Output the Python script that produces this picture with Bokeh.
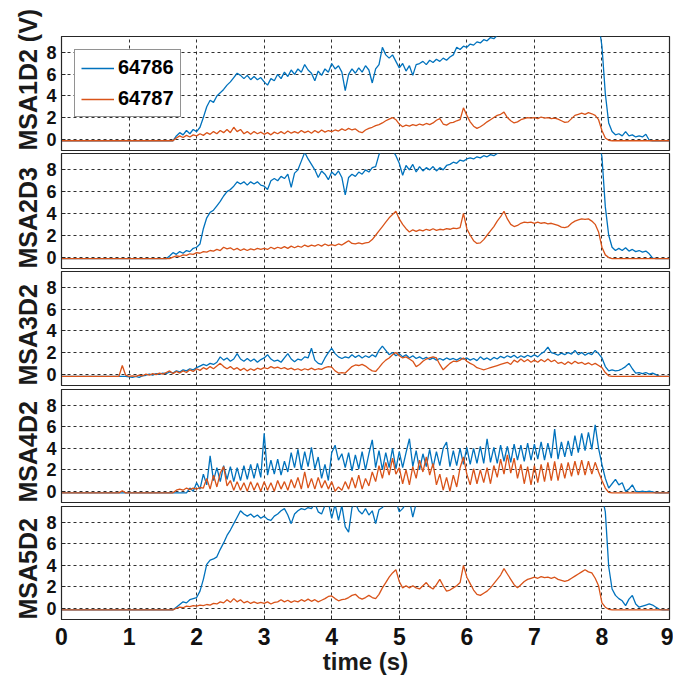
from bokeh.plotting import figure
from bokeh.layouts import column
from bokeh.models import Range1d, FixedTicker, Legend, LegendItem, Title
from bokeh.embed import file_html
from bokeh.resources import INLINE

# sample times (s), 0.05 s apart
time_s = [round(0.05 * i, 2) for i in range(181)]

x_ticks = [0, 1, 2, 3, 4, 5, 6, 7, 8, 9]
y_ticks = [0, 2, 4, 6, 8]
series_names = ["64786", "64787"]
panel_labels = ["MSA1D2 (V)", "MSA2D3", "MSA3D2", "MSA4D2", "MSA5D2"]

# ---- MSA1D2 ----
msa1_64786 = [
    -0.15, -0.15, -0.15, -0.15, -0.15, -0.15, -0.15, -0.15, -0.15, -0.15, -0.15, -0.15, -0.15, -0.15, -0.15, -0.15, -0.15, -0.15, -0.15, -0.15,
    -0.15, -0.15, -0.15, -0.15, -0.15, -0.15, -0.15, -0.15, -0.15, -0.15, -0.15, -0.15, -0.15, -0.15, 0.3, 0.6, 0.4, 0.8, 0.5, 0.9,
    0.7, 1.1, 2.0, 3.0, 3.6, 3.4, 4.0, 4.3, 4.6, 5.0, 5.3, 5.7, 6.1, 5.9, 5.6, 5.9, 5.5, 5.8, 5.5, 5.7,
    5.3, 5.0, 5.6, 5.4, 6.0, 5.6, 6.2, 5.8, 6.4, 6.0, 6.5, 6.2, 6.9, 6.4, 6.1, 5.4, 6.3, 5.9, 6.5, 6.2,
    7.0, 6.5, 6.8, 6.2, 4.5, 6.0, 6.5, 6.1, 6.6, 6.2, 6.8, 6.4, 5.2, 6.5, 6.9, 8.5, 7.8, 7.5, 7.8, 7.2,
    6.6, 7.0, 6.3, 6.8, 5.9, 6.9, 7.0, 7.2, 6.9, 7.3, 7.1, 7.4, 7.2, 7.5, 7.3, 7.6, 7.8, 8.5, 8.3, 8.6,
    8.5, 8.8, 8.7, 9.0, 8.9, 9.2, 9.1, 9.4, 9.3, 9.6, 9.8, 10.0, 10.2, 10.3, 10.4, 10.5, 10.5, 10.6, 10.6, 10.7,
    10.8, 10.8, 10.8, 10.8, 10.8, 10.8, 10.8, 10.8, 10.8, 10.8, 10.8, 10.8, 10.8, 10.8, 10.8, 10.8, 10.8, 10.8, 10.8, 10.8,
    8.6, 4.2, 1.5, 0.7, 0.4, 0.5, 0.3, 0.7, 0.3, 0.4, 0.2, 0.3, 0.2, 0.45, -0.1, -0.15, -0.15, -0.15, -0.15, -0.15,
    -0.15]
msa1_64787 = [
    -0.15, -0.15, -0.15, -0.15, -0.15, -0.15, -0.15, -0.15, -0.15, -0.15, -0.15, -0.15, -0.15, -0.15, -0.15, -0.15, -0.15, -0.15, -0.15, -0.15,
    -0.15, -0.15, -0.15, -0.15, -0.15, -0.15, -0.15, -0.15, -0.15, -0.15, -0.15, -0.15, -0.15, -0.15, 0.1, 0.3, 0.15, 0.35, 0.2, 0.4,
    0.3, 0.5, 0.35, 0.6, 0.45, 0.7, 0.5, 0.8, 0.6, 0.9, 0.6, 1.1, 0.7, 0.9, 0.5, 0.7, 0.45, 0.7, 0.5, 0.65,
    0.45, 0.6, 0.4, 0.65, 0.5, 0.7, 0.5, 0.75, 0.55, 0.7, 0.55, 0.8, 0.6, 0.75, 0.55, 0.8, 0.6, 0.85, 0.65, 0.8,
    0.7, 0.85, 0.75, 0.95, 0.8, 1.0, 0.85, 0.95, 0.7, 0.6, 0.85, 1.0, 1.1, 1.25, 1.35, 1.5, 1.7, 1.85, 2.0, 1.8,
    1.4, 1.15, 1.3, 1.2, 1.35, 1.25, 1.4, 1.3, 1.45, 1.35, 1.5, 1.75, 1.9, 1.4, 1.3, 1.5, 1.55, 1.7, 1.8, 2.9,
    2.2, 1.6, 1.2, 1.0, 1.15, 1.35, 1.6, 1.8, 2.0, 2.2, 2.3, 2.5, 2.0, 1.7, 1.5, 1.6, 1.8, 1.9, 2.0, 1.95,
    2.0, 1.9, 2.05, 1.95, 2.0, 1.9, 1.95, 1.85, 1.7, 1.55, 1.6, 1.9, 2.2, 2.3, 2.4, 2.3, 2.45, 2.35, 2.2, 1.8,
    0.8, 0.1, -0.1, -0.15, -0.15, -0.15, -0.15, -0.15, -0.15, -0.15, -0.15, -0.15, -0.15, -0.15, -0.15, -0.15, -0.15, -0.15, -0.15, -0.15,
    -0.15]

# ---- MSA2D3 ----
msa2_64786 = [
    -0.15, -0.15, -0.15, -0.15, -0.15, -0.15, -0.15, -0.15, -0.15, -0.15, -0.15, -0.15, -0.15, -0.15, -0.15, -0.15, -0.15, -0.15, -0.15, -0.15,
    -0.15, -0.15, -0.15, -0.15, -0.15, -0.15, -0.15, -0.15, -0.15, -0.15, -0.15, -0.15, 0.1, 0.4, 0.25, 0.5, 0.35, 0.6, 0.5, 0.8,
    0.9, 1.2, 2.6, 3.6, 4.1, 4.3, 4.7, 5.1, 5.6, 6.0, 6.2, 6.5, 6.9, 6.7, 6.9, 6.6, 6.9, 6.7, 6.9, 6.6,
    6.5, 6.2, 7.0, 7.2, 7.0, 7.4, 7.2, 7.6, 6.4, 7.7, 8.0, 8.8, 9.6, 9.0, 8.5, 8.0, 7.3, 7.9, 7.6, 7.1,
    7.8, 7.5, 7.9, 7.3, 5.7, 7.3, 7.6, 7.4, 7.8, 7.6, 8.0, 7.8, 8.2, 8.3, 9.4, 10.0, 10.2, 10.1, 9.8, 9.3,
    8.6, 7.5, 8.4, 8.0, 8.5, 7.8, 8.3, 7.9, 8.2, 8.0, 8.3, 7.9, 8.2, 8.0, 8.4, 8.5, 8.7, 8.6, 8.9, 8.8,
    9.0, 9.1, 9.0, 9.2, 9.1, 9.3, 9.2, 9.4, 9.3, 9.5, 9.7, 9.9, 10.1, 10.2, 10.3, 10.4, 10.5, 10.5, 10.6, 10.6,
    10.8, 10.8, 10.8, 10.8, 10.8, 10.8, 10.8, 10.8, 10.8, 10.8, 10.8, 10.8, 10.8, 10.8, 10.8, 10.8, 10.8, 10.8, 10.8, 10.8,
    9.2, 4.6, 2.0, 0.9, 0.6, 0.8, 0.6, 0.85, 0.55, 0.7, 0.5, 0.6, 0.45, 0.55, 0.3, -0.1, -0.15, -0.15, -0.15, -0.15,
    -0.15]
msa2_64787 = [
    -0.15, -0.15, -0.15, -0.15, -0.15, -0.15, -0.15, -0.15, -0.15, -0.15, -0.15, -0.15, -0.15, -0.15, -0.15, -0.15, -0.15, -0.15, -0.15, -0.15,
    -0.15, -0.15, -0.15, -0.15, -0.15, -0.15, -0.15, -0.15, -0.15, -0.15, -0.15, -0.15, -0.15, 0.0, 0.1, 0.05, 0.2, 0.15, 0.3, 0.25,
    0.4, 0.35, 0.5, 0.45, 0.6, 0.55, 0.7, 0.6, 0.9, 0.75, 0.85, 0.65, 0.8, 0.6, 0.75, 0.6, 0.75, 0.65, 0.8, 0.7,
    0.8, 0.7, 0.9, 0.75, 0.9, 0.8, 0.95, 0.8, 1.0, 0.85, 1.0, 0.9, 1.1, 0.95, 1.1, 1.0, 1.15, 1.0, 1.2, 1.05,
    1.15, 1.05, 1.2, 1.1, 1.3, 1.5, 1.25, 1.2, 1.3, 1.2, 1.3, 1.35, 1.6, 2.0, 2.4, 2.8, 3.2, 3.6, 3.9, 4.2,
    3.5, 3.0, 2.6, 2.3, 2.5, 2.35, 2.5, 2.4, 2.55, 2.45, 2.6, 2.45, 2.55, 2.5, 2.6, 2.55, 2.65, 2.6, 2.7, 4.0,
    2.6, 2.0, 1.5, 1.25, 1.3, 1.6, 2.0, 2.4, 2.8, 3.3, 3.7, 4.2, 3.5, 3.0, 2.8, 2.9, 3.1, 3.2, 3.15, 3.2,
    3.1, 3.2, 3.1, 3.15, 3.05, 3.1, 3.0, 2.9, 2.75, 2.7, 2.8, 3.1, 3.3, 3.4, 3.5, 3.45, 3.5, 3.3, 3.0, 2.3,
    0.9, 0.2, -0.05, -0.15, -0.15, -0.15, -0.15, -0.15, -0.15, -0.15, -0.15, -0.15, -0.15, -0.15, -0.15, -0.15, -0.15, -0.15, -0.15, -0.15,
    -0.15]

# ---- MSA3D2 ----
msa3_64786 = [
    -0.2, -0.2, -0.2, -0.2, -0.2, -0.2, -0.2, -0.2, -0.2, -0.2, -0.2, -0.2, -0.2, -0.2, -0.2, -0.2, -0.2, -0.2, -0.2, -0.2,
    -0.25, -0.3, -0.2, -0.3, -0.15, -0.1, 0.0, -0.1, 0.05, 0.0, 0.1, 0.05, 0.2, 0.1, 0.3, 0.2, 0.4, 0.3, 0.5, 0.4,
    0.6, 0.75, 0.9, 0.8, 1.0, 0.9, 1.1, 1.6, 1.3, 1.5, 1.2, 1.4, 1.9, 1.4, 1.2, 1.45, 1.2, 1.4, 1.1, 1.35,
    1.5, 1.8, 1.4, 1.2, 1.3, 1.1, 1.5, 1.9, 1.4, 1.15, 1.4, 1.3, 1.6, 1.5, 2.4, 1.3, 1.0, 0.9, 1.5, 2.0,
    2.4, 1.9, 1.6, 1.45, 1.6, 1.5, 1.8, 1.55, 1.75, 1.5, 1.7, 1.55, 1.8, 1.6, 2.2, 2.6, 2.2, 1.8, 2.0, 1.7,
    1.9, 1.6, 1.8, 1.5, 1.7, 1.45, 1.6, 1.4, 1.55, 1.35, 1.5, 1.3, 1.45, 1.3, 1.5, 1.35, 1.45, 1.3, 1.5, 1.4,
    1.5, 1.3, 1.45, 1.25, 1.6, 1.35, 1.5, 1.3, 1.55, 1.4, 1.65, 1.5, 1.7, 1.55, 1.75, 1.5, 1.7, 1.55, 1.75, 1.6,
    1.8, 1.6, 1.9, 2.1, 2.5, 2.0, 1.9, 1.75, 1.95, 1.8, 2.0, 1.85, 2.2, 1.8, 2.0, 1.75, 1.95, 1.8, 2.2, 1.9,
    1.5, 0.7, 0.3, 0.4, 0.3, 0.35, 0.5, 0.7, 1.0, 0.5, 0.1, 0.15, 0.05, 0.15, 0.0, 0.1, -0.05, -0.2, -0.2, -0.2,
    -0.2]
msa3_64787 = [
    -0.2, -0.2, -0.2, -0.2, -0.2, -0.2, -0.2, -0.2, -0.2, -0.2, -0.2, -0.2, -0.2, -0.2, -0.2, -0.2, -0.2, -0.2, 0.8, -0.1,
    -0.2, -0.15, -0.2, -0.1, -0.15, 0.0, -0.1, 0.05, -0.05, 0.1, 0.0, 0.15, 0.3, 0.05, 0.25, 0.1, 0.3, 0.15, 0.4, 0.25,
    0.5, 0.35, 0.6, 0.45, 0.7, 0.5, 0.75, 1.0, 0.7, 0.5, 0.7, 0.45, 0.6, 0.35, 0.55, 0.3, 0.5, 0.35, 0.55, 0.45,
    0.6, 0.5, 0.7, 0.55, 0.65, 0.5, 0.6, 0.45, 0.55, 0.4, 0.5, 0.35, 0.5, 0.4, 0.55, 0.4, 0.5, 0.45, 0.6, 0.7,
    0.65, 0.3, 0.1, 0.15, 0.1, 0.4, 0.7, 0.85, 0.8, 0.9, 0.75, 0.5, 0.3, 0.25, 0.6, 1.0, 1.3, 1.5, 1.8, 2.0,
    1.7, 1.5, 1.6, 1.4, 1.2, 0.7, 0.9, 1.2, 1.4, 1.5, 1.6, 1.5, 0.9, 0.4, 0.7, 1.0, 1.2, 1.15, 1.3, 1.5,
    1.2, 1.0, 0.85, 0.6, 0.5, 0.4, 0.5, 0.6, 0.7, 0.8, 0.9, 1.0, 1.1, 0.9, 1.3, 1.1, 1.4, 1.15, 1.35, 1.1,
    1.3, 1.1, 1.35, 1.15, 1.4, 1.15, 1.3, 1.0, 1.1, 0.9, 1.15, 0.95, 1.2, 1.0, 1.1, 0.9, 1.05, 0.85, 1.0, 0.8,
    0.6, 0.15, -0.15, -0.2, -0.2, -0.2, -0.2, -0.2, -0.2, -0.2, -0.2, -0.2, -0.2, -0.2, -0.2, -0.2, -0.2, -0.2, -0.2, -0.2,
    -0.2]

# ---- MSA4D2 ----
msa4_64786 = [
    -0.15, -0.15, -0.15, -0.15, -0.15, -0.15, -0.15, -0.15, -0.15, -0.15, -0.15, -0.15, -0.15, -0.15, -0.15, -0.15, -0.15, -0.15, -0.15, -0.15,
    -0.15, -0.15, -0.15, -0.15, -0.15, -0.15, -0.15, -0.15, -0.15, -0.15, -0.15, -0.15, -0.15, -0.15, -0.15, -0.15, -0.15, -0.15, 0.3, 0.0,
    0.8, 0.2, 1.6, 0.6, 3.3, 1.0, 2.2, 0.9, 2.4, 1.1, 2.3, 0.9, 2.2, 1.0, 2.4, 1.1, 2.5, 1.2, 2.6, 1.3,
    5.4, 1.5, 2.9, 1.6, 3.0, 1.5, 2.8, 1.8, 3.6, 2.2, 3.9, 2.0, 3.7, 2.3, 4.1, 2.1, 3.2, 1.2, 2.5, 1.0,
    3.6, 4.3, 2.9, 3.5, 2.2, 3.6, 1.9, 3.4, 2.1, 3.7, 2.0, 3.5, 4.8, 2.2, 3.8, 2.0, 3.6, 2.2, 4.0, 2.1,
    3.7, 2.2, 3.6, 4.9, 2.3, 3.8, 2.0, 3.5, 2.3, 3.9, 2.2, 3.7, 2.4, 4.0, 4.6, 2.3, 3.8, 2.4, 4.0, 2.5,
    4.1, 2.5, 4.0, 2.6, 4.2, 2.6, 4.9, 2.7, 4.1, 2.6, 4.3, 2.8, 4.2, 2.7, 4.4, 2.9, 4.3, 2.8, 4.5, 2.9,
    4.4, 3.0, 4.6, 2.9, 4.5, 3.1, 5.8, 3.0, 4.6, 3.2, 4.7, 3.3, 5.2, 3.6, 5.4, 3.8, 5.5, 3.9, 6.2, 4.0,
    2.5, 1.2, 0.3, 0.7, 1.1, 0.6, 0.8, 0.0, 0.2, 0.6, 0.0, -0.05, 0.0, -0.05, 0.0, -0.05, -0.15, -0.15, -0.15, -0.15,
    -0.15]
msa4_64787 = [
    -0.15, -0.15, -0.15, -0.15, -0.15, -0.15, -0.15, -0.15, -0.15, -0.15, -0.15, -0.15, -0.15, -0.15, -0.15, -0.15, -0.15, -0.15, 0.05, -0.15,
    -0.15, -0.15, -0.15, -0.15, -0.15, -0.15, -0.15, -0.15, -0.15, -0.15, -0.15, -0.15, -0.15, -0.15, 0.1, 0.2, 0.1, 0.3, 0.15, 0.3,
    0.2, 0.35, 0.3, 1.2, 0.2, 1.5, 0.4, 1.7, 2.3, 0.5, 1.0, 0.1, 0.9, 0.1, 0.8, 0.0, 0.9, 0.1, 0.8, 0.0,
    0.9, 0.1, 0.8, 0.0, 1.0, 0.2, 0.9, 0.1, 1.1, 0.3, 1.3, 0.2, 1.8, 0.3, 1.2, 0.2, 1.3, 0.3, 1.0, 0.2,
    0.9, 0.0, 0.4, 0.1, 0.9, 0.2, 1.3, 0.3, 1.5, 0.2, 1.2, 0.5, 1.8, 0.9, 2.4, 1.2, 2.7, 1.5, 3.1, 1.6,
    2.2, 0.7, 2.0, 0.6, 2.3, 1.2, 2.9, 1.8, 3.2, 1.5, 2.6, 0.6, 1.6, 0.1, 1.3, 0.0, 1.5, 0.4, 2.2, 3.2,
    1.6, 0.6, 2.1, 0.7, 2.0, 0.8, 2.2, 0.7, 2.4, 1.3, 3.0, 1.6, 3.4, 1.7, 3.1, 1.2, 2.5, 0.7, 2.3, 0.6,
    2.4, 0.8, 2.5, 0.9, 2.7, 1.0, 2.8, 1.0, 2.6, 1.2, 2.7, 1.4, 2.8, 1.5, 2.9, 1.5, 2.8, 1.6, 2.7, 1.8,
    1.0, 0.3, -0.1, -0.15, -0.15, -0.15, -0.15, -0.15, -0.15, -0.15, -0.15, -0.15, -0.15, -0.15, -0.15, -0.15, -0.15, -0.15, -0.15, -0.15,
    -0.15]

# ---- MSA5D2 ----
msa5_64786 = [
    -0.15, -0.15, -0.15, -0.15, -0.15, -0.15, -0.15, -0.15, -0.15, -0.15, -0.15, -0.15, -0.15, -0.15, -0.15, -0.15, -0.15, -0.15, -0.15, -0.15,
    -0.15, -0.15, -0.15, -0.15, -0.15, -0.15, -0.15, -0.15, -0.15, -0.15, -0.15, -0.15, -0.15, -0.15, 0.1, 0.35, 0.6, 0.5, 0.8, 0.9,
    1.0, 1.6, 2.7, 4.1, 4.5, 4.6, 4.8, 5.5, 6.1, 6.8, 7.3, 7.9, 8.5, 9.1, 8.8, 8.6, 8.8, 8.5, 8.7, 8.4,
    8.6, 8.3, 8.2, 8.6, 8.8, 9.1, 9.3, 8.7, 7.9, 8.8, 9.1, 9.3, 9.2, 9.4, 9.3, 9.8, 9.0, 8.8, 9.6, 9.9,
    8.4, 9.7, 8.2, 9.6, 7.6, 7.1, 9.4, 9.8, 9.1, 8.8, 9.3, 8.7, 9.1, 7.9, 9.2, 9.4, 9.9, 10.1, 10.2, 10.0,
    9.0, 9.3, 9.8, 10.1, 8.5, 9.8, 10.2, 10.4, 10.5, 10.5, 10.5, 10.5, 10.5, 10.5, 10.5, 10.5, 10.5, 10.5, 10.5, 10.5,
    10.6, 10.6, 10.6, 10.6, 10.6, 10.6, 10.6, 10.6, 10.6, 10.6, 10.6, 10.6, 10.6, 10.6, 10.6, 10.6, 10.6, 10.6, 10.6, 10.6,
    10.8, 10.8, 10.8, 10.8, 10.8, 10.8, 10.8, 10.8, 10.8, 10.8, 10.8, 10.8, 10.8, 10.8, 10.8, 10.8, 10.8, 10.8, 10.8, 10.8,
    10.5, 9.0, 3.9, 1.8, 1.2, 0.9, 0.7, 0.25, 0.85, 1.2, 0.4, 0.1, 0.2, 0.3, 0.4, 0.3, 0.1, -0.1, -0.15, -0.15,
    -0.15]
msa5_64787 = [
    -0.15, -0.15, -0.15, -0.15, -0.15, -0.15, -0.15, -0.15, -0.15, -0.15, -0.15, -0.15, -0.15, -0.15, -0.15, -0.15, -0.15, -0.15, -0.15, -0.15,
    -0.15, -0.15, -0.15, -0.15, -0.15, -0.15, -0.15, -0.15, -0.15, -0.15, -0.15, -0.15, -0.15, -0.15, 0.0, 0.1, 0.05, 0.2, 0.15, 0.25,
    0.2, 0.3, 0.25, 0.35, 0.3, 0.45, 0.4, 0.6, 0.5, 0.8, 0.55, 0.9, 0.6, 0.8, 0.5, 0.65, 0.45, 0.6, 0.45, 0.55,
    0.45, 0.6, 0.4, 0.55, 0.6, 0.8, 0.6, 0.75, 0.55, 0.7, 0.6, 0.8, 0.65, 0.85, 0.65, 0.8, 0.6, 0.75, 0.9, 1.1,
    1.15, 0.9, 0.7, 0.8, 0.85, 1.0, 1.2, 1.3, 1.0, 0.85, 1.0, 1.2, 1.0, 0.9, 1.3, 1.9, 2.4, 2.9, 3.3, 3.6,
    2.5, 1.9, 2.1, 1.9, 2.1, 1.9, 1.8, 2.1, 2.4, 2.0, 1.8, 2.2, 2.7, 2.1, 1.6, 1.7, 1.9, 2.1, 2.4, 4.0,
    2.9, 2.3, 1.7, 1.3, 1.2, 1.4, 1.6, 1.9, 2.3, 2.7, 3.1, 3.7, 3.2, 2.7, 2.2, 1.9, 2.2, 2.5, 2.7, 2.8,
    2.9, 2.8, 2.95, 2.85, 2.9, 2.8, 2.9, 2.7, 2.6, 2.5, 2.6, 2.8, 3.0, 3.2, 3.4, 3.6, 3.4, 3.3, 2.8, 2.1,
    0.5, 0.1, -0.1, -0.15, -0.15, -0.15, -0.15, -0.15, -0.15, -0.15, -0.15, -0.15, -0.15, -0.15, -0.15, -0.15, -0.15, -0.15, -0.15, -0.15,
    -0.15]

panel_data = [
    (msa1_64786, msa1_64787),
    (msa2_64786, msa2_64787),
    (msa3_64786, msa3_64787),
    (msa4_64786, msa4_64787),
    (msa5_64786, msa5_64787),
]

BLUE = "#0072BD"
ORANGE = "#D95319"
FONT = "Liberation Sans"
DARK = "#262626"

heights = [152, 117, 118, 117, 173]
tops = [36, 1, 2, 2, 2]
bottoms = [2, 1, 2, 2, 57]

figs = []
for k in range(5):
    p = figure(width=673, height=heights[k], x_range=Range1d(0, 9), y_range=Range1d(-1.05, 9.5),
               output_backend="svg", toolbar_location=None,
               min_border_left=61, min_border_right=4,
               min_border_top=tops[k], min_border_bottom=bottoms[k])
    p.background_fill_color = "white"
    p.border_fill_color = "white"
    p.outline_line_color = DARK
    p.outline_line_width = 1.2

    p.yaxis.ticker = FixedTicker(ticks=y_ticks)
    p.yaxis.major_label_text_font = FONT
    p.yaxis.major_label_text_font_style = "bold"
    p.yaxis.major_label_text_font_size = "18px"
    p.yaxis.major_label_text_color = "#111111"
    p.yaxis.major_label_standoff = 5
    p.yaxis.major_tick_in = 4
    p.yaxis.major_tick_out = 0
    p.yaxis.minor_tick_line_color = None
    p.yaxis.axis_line_color = DARK
    p.yaxis.major_tick_line_color = DARK

    p.xgrid.ticker = FixedTicker(ticks=x_ticks[1:-1])
    p.ygrid.ticker = FixedTicker(ticks=y_ticks)
    for g in (p.xgrid, p.ygrid):
        g.grid_line_color = "#1a1a1a"
        g.grid_line_dash = "3 3"
        g.grid_line_width = 1
        g.grid_line_alpha = 0.9

    if k < 4:
        p.xaxis.visible = False
    else:
        p.xaxis.ticker = FixedTicker(ticks=x_ticks)
        p.xaxis.major_label_text_font = FONT
        p.xaxis.major_label_text_font_style = "bold"
        p.xaxis.major_label_text_font_size = "23px"
        p.xaxis.major_label_text_color = "#111111"
        p.xaxis.major_label_standoff = 8
        p.xaxis.major_tick_in = 4
        p.xaxis.major_tick_out = 0
        p.xaxis.minor_tick_line_color = None
        p.xaxis.axis_line_color = DARK
        p.xaxis.major_tick_line_color = DARK
        p.xaxis.axis_label = "time (s)"
        p.xaxis.axis_label_text_font = FONT
        p.xaxis.axis_label_text_font_style = "bold"
        p.xaxis.axis_label_text_font_size = "24px"
        p.xaxis.axis_label_text_color = "#1a1a1a"
        p.xaxis.axis_label_standoff = 0

    yb, yo = panel_data[k]
    rb = p.line(time_s, yb, line_color=BLUE, line_width=1.3)
    ro = p.line(time_s, yo, line_color=ORANGE, line_width=1.3)

    p.add_layout(Title(text=panel_labels[k], align="left", offset=0, standoff=3,
                       text_font=FONT, text_font_style="bold", text_font_size="25px",
                       text_color="#1a1a1a"), "left")

    if k == 0:
        lb = p.line([0.0], [float("nan")], line_color=BLUE, line_width=1.6)
        lo = p.line([0.0], [float("nan")], line_color=ORANGE, line_width=1.6)
        legend = Legend(items=[LegendItem(label=series_names[0], renderers=[lb]),
                               LegendItem(label=series_names[1], renderers=[lo])],
                        location="top_left", margin=13, padding=6, spacing=8,
                        glyph_width=33, glyph_height=20, label_height=20,
                        label_standoff=4, label_text_font=FONT,
                        label_text_font_style="bold", label_text_font_size="20px",
                        label_text_color="#000000",
                        border_line_color=DARK, border_line_width=1,
                        background_fill_color="white", background_fill_alpha=1)
        p.add_layout(legend)
    figs.append(p)

layout = column(*figs, spacing=0)
open("out.html", "w").write(file_html(layout, INLINE))
